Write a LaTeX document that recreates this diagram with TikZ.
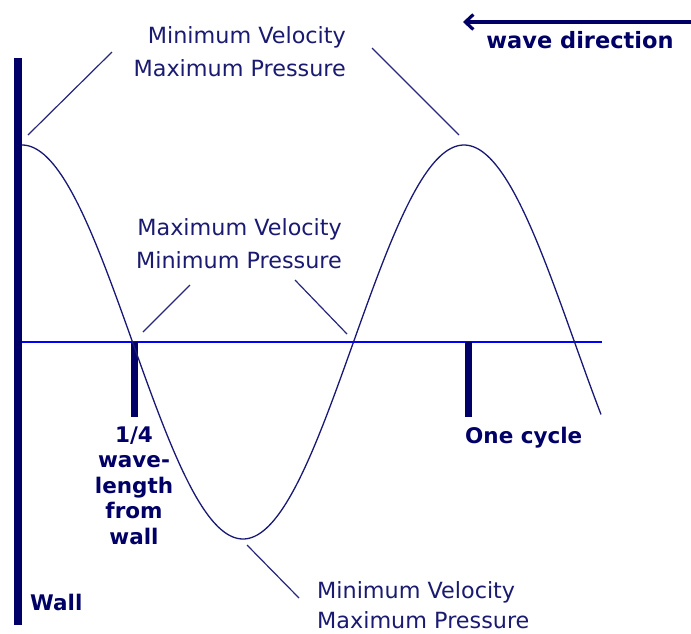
\documentclass[tikz,border=0pt]{standalone}
\usepackage{fontspec}
\setmainfont{DejaVu Sans}
\usetikzlibrary{arrows.meta}
\definecolor{navy}{HTML}{000066}
\definecolor{axisblue}{HTML}{0000FF}
\definecolor{thintext}{HTML}{1A1A70}
\tikzset{
  lbl/.style={inner sep=0pt, text=thintext, font=\fontsize{22.3}{26}\selectfont},
  blbl/.style={inner sep=0pt, text=navy, font=\fontsize{21.5}{26}\selectfont\bfseries},
  leader/.style={draw=navy!85, line width=1.2pt},
  tickbar/.style={draw=navy, line width=7pt},
}
\begin{document}
\begin{tikzpicture}[x=1pt,y=-1pt]
\useasboundingbox (0,0) rectangle (691,633);
% wall
\coordinate (walltop) at (18,58);
\coordinate (wallbot) at (18,625);
\draw[navy, line width=8pt] (walltop) -- (wallbot);
% axis
\coordinate (axl) at (22,342);
\coordinate (axr) at (602,342);
\draw[axisblue, line width=1.8pt] (axl) -- (axr);
% ticks
\coordinate (t1a) at (134,342);
\coordinate (t1b) at (134,417);
\coordinate (t2a) at (468,342);
\coordinate (t2b) at (468,417);
\draw[tickbar] (t1a) -- (t1b);
\draw[tickbar] (t2a) -- (t2b);
% wave
\draw[navy!90, line width=1.3pt] plot[domain=22:601, samples=240, smooth] (\x, {342 - 197*cos((\x-22)/442*360)});
% wave direction arrow
\coordinate (arrs) at (691,22);
\coordinate (arre) at (463,22);
\draw[navy, line width=3.2pt, -{Straight Barb[length=8pt,width=15pt]}] (arrs) -- (arre);
\node[blbl, anchor=base, font=\fontsize{22.5}{26}\selectfont\bfseries] (wavedir) at (580,48) {wave direction};
% labels
\node[lbl, anchor=base east] (topA) at (346,43.5) {Minimum Velocity};
\node[lbl, anchor=base east] (topB) at (346,76) {Maximum Pressure};
\node[lbl, anchor=base east] (midA) at (342,235) {Maximum Velocity};
\node[lbl, anchor=base east] (midB) at (342,268) {Minimum Pressure};
\node[lbl, anchor=base west] (botA) at (317,598) {Minimum Velocity};
\node[lbl, anchor=base west] (botB) at (317,628) {Maximum Pressure};
% leaders
\coordinate (l1a) at (112,52);  \coordinate (l1b) at (28,135);
\coordinate (l2a) at (372,48);  \coordinate (l2b) at (459,135);
\coordinate (l3a) at (190,285); \coordinate (l3b) at (143,332);
\coordinate (l4a) at (295,280); \coordinate (l4b) at (347,334);
\coordinate (l5a) at (299,598); \coordinate (l5b) at (247,545);
\draw[leader] (l1a) -- (l1b);
\draw[leader] (l2a) -- (l2b);
\draw[leader] (l3a) -- (l3b);
\draw[leader] (l4a) -- (l4b);
\draw[leader] (l5a) -- (l5b);
% bold labels
\node[blbl, anchor=base] (qa) at (134,442) {1/4};
\node[blbl, anchor=base] (qb) at (134,467.5) {wave-};
\node[blbl, anchor=base] (qc) at (134,493) {length};
\node[blbl, anchor=base] (qd) at (134,518.5) {from};
\node[blbl, anchor=base] (qe) at (134,544) {wall};
\node[blbl, anchor=base west] (cycle) at (465,443) {One cycle};
\node[blbl, anchor=base west] (walllbl) at (30,610) {Wall};
\end{tikzpicture}
\end{document}
